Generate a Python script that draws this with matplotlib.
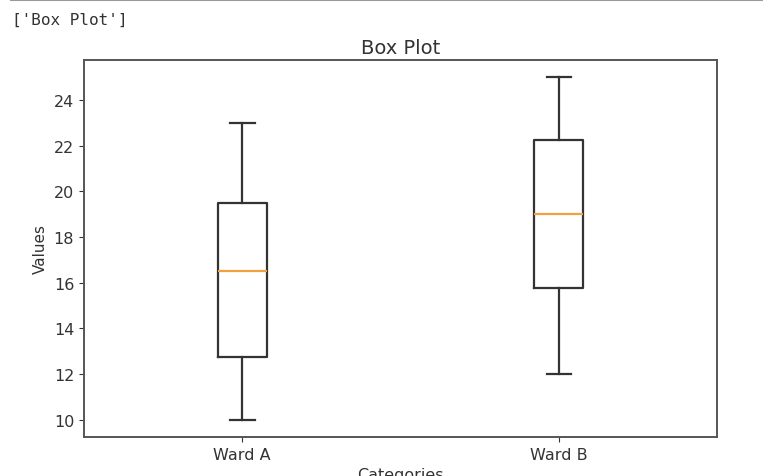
import matplotlib.pyplot as plt
from matplotlib.lines import Line2D

# box statistics
categories = ['Ward A', 'Ward B']
mins = [10, 12]
q1s = [12.75, 15.75]
medians = [16.5, 19]
q3s = [19.5, 22.25]
maxs = [23, 25]

stats = []
for i, name in enumerate(categories):
    stats.append({'label': name, 'whislo': mins[i], 'q1': q1s[i], 'med': medians[i],
                  'q3': q3s[i], 'whishi': maxs[i], 'fliers': []})

fig = plt.figure(figsize=(7.63, 4.77), dpi=100)
ax = fig.add_axes([0.110, 0.082, 0.830, 0.790])

line_kw = dict(color='#333333', linewidth=1.6)
ax.bxp(stats, widths=0.155, boxprops=line_kw, whiskerprops=line_kw, capprops=line_kw,
       medianprops=dict(color='#f5a040', linewidth=1.6), showfliers=False)

ax.set_title('Box Plot', fontsize=14, color='#333333', pad=5)
ax.set_xlabel('Categories', fontsize=11.5, color='#333333')
ax.set_ylabel('Values', fontsize=11, color='#333333')
ax.tick_params(labelsize=11.5, colors='#333333')
for s in ax.spines.values():
    s.set_color('#555555')
    s.set_linewidth(1.4)

# notebook output text and separator line above the figure
fig.text(0.016, 0.958, "['Box Plot']", family='DejaVu Sans Mono', fontsize=11.5,
         color='#333333', va='center')
fig.add_artist(Line2D([0.015, 1.0], [0.998, 0.998], color='#999999', linewidth=1.5))

fig.savefig('out.png', dpi=100)
